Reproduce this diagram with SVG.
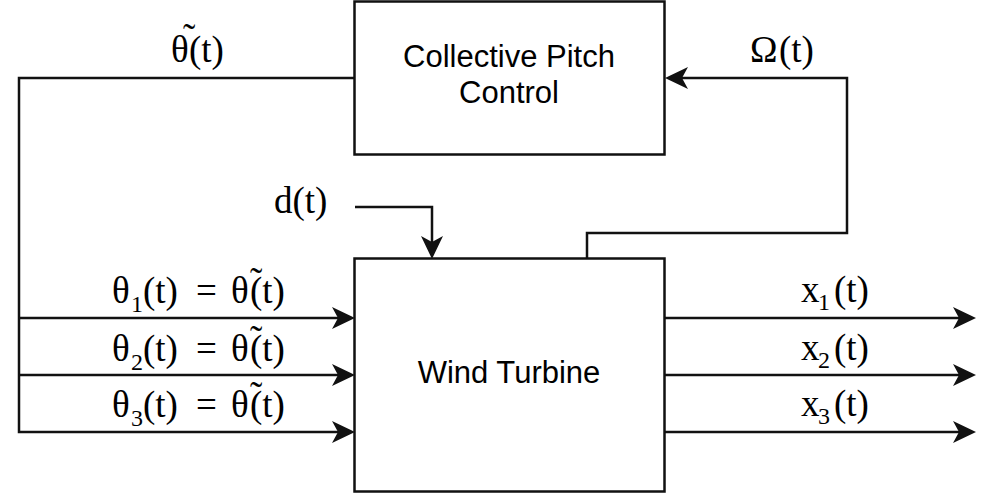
<svg xmlns="http://www.w3.org/2000/svg" width="996" height="501" viewBox="0 0 996 501">
<style>
.box{fill:#fff;stroke:#111;stroke-width:2.5}
.lbl{font-family:"Liberation Sans",Arial,sans-serif;font-size:31px;fill:#000;text-anchor:middle}
.m{font-family:"Liberation Serif","Times New Roman",serif;font-size:37px;fill:#000}
.s{font-size:24px}
.c{fill:none;stroke:#111;stroke-width:2.5}
</style>
<defs>
<marker id="ah" markerUnits="userSpaceOnUse" markerWidth="26" markerHeight="26" refX="10" refY="12" orient="auto">
<path d="M1,1 L24,12 L1,23 L7,12 Z" fill="#111"/>
</marker>
</defs>
<rect width="996" height="501" fill="#fff"/>
<g id="connectors">
<path class="c" d="M354,78 H19 V432 H341" marker-end="url(#ah)"/>
<path class="c" d="M19,318 H341" marker-end="url(#ah)"/>
<path class="c" d="M19,375 H341" marker-end="url(#ah)"/>
<path class="c" d="M587,258 V233 H847 V78 H679" marker-end="url(#ah)"/>
<path class="c" d="M355,207 H432 V245" marker-end="url(#ah)"/>
<path class="c" d="M665,318 H962" marker-end="url(#ah)"/>
<path class="c" d="M665,375 H962" marker-end="url(#ah)"/>
<path class="c" d="M665,432 H962" marker-end="url(#ah)"/>
</g>
<g id="pitch-control">
<rect class="box" x="354.5" y="1.5" width="310" height="153"/>
<text class="lbl" x="509" y="67">Collective Pitch</text>
<text class="lbl" x="509" y="103">Control</text>
</g>
<g id="wind-turbine">
<rect class="box" x="354.5" y="258.5" width="310" height="233"/>
<text class="lbl" x="509" y="383">Wind Turbine</text>
</g>
<g id="labels">
<text class="m" y="62"><tspan x="171">θ</tspan><tspan x="183" y="50">˜</tspan><tspan x="189" y="62">(t)</tspan></text>
<text class="m" y="62"><tspan x="750">Ω</tspan><tspan x="779">(t)</tspan></text>
<text class="m" x="274" y="213">d(t)</text>

<text class="m" y="303"><tspan x="112">θ</tspan><tspan class="s" x="131" y="312">1</tspan><tspan x="143" y="303">(t)</tspan><tspan x="196">=</tspan><tspan x="231">θ</tspan><tspan x="250" y="294">˜</tspan><tspan x="250" y="303">(t)</tspan></text>
<text class="m" y="361"><tspan x="112">θ</tspan><tspan class="s" x="131" y="370">2</tspan><tspan x="143" y="361">(t)</tspan><tspan x="196">=</tspan><tspan x="231">θ</tspan><tspan x="250" y="352">˜</tspan><tspan x="250" y="361">(t)</tspan></text>
<text class="m" y="417"><tspan x="112">θ</tspan><tspan class="s" x="131" y="426">3</tspan><tspan x="143" y="417">(t)</tspan><tspan x="196">=</tspan><tspan x="231">θ</tspan><tspan x="250" y="408">˜</tspan><tspan x="250" y="417">(t)</tspan></text>

<text class="m" y="302"><tspan x="801">x</tspan><tspan class="s" x="818" y="310">1</tspan><tspan x="834" y="302">(t)</tspan></text>
<text class="m" y="360"><tspan x="801">x</tspan><tspan class="s" x="818" y="368">2</tspan><tspan x="834" y="360">(t)</tspan></text>
<text class="m" y="416"><tspan x="801">x</tspan><tspan class="s" x="818" y="424">3</tspan><tspan x="834" y="416">(t)</tspan></text>
</g>
</svg>
